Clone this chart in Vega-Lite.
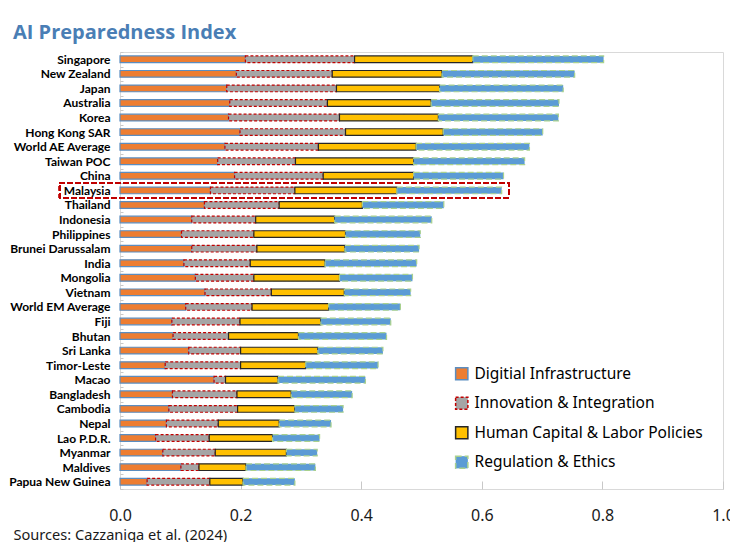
{
  "$schema": "https://vega.github.io/schema/vega-lite/v6.json",
  "autosize": {"type": "none"},
  "padding": {"left": 120, "top": 52, "right": 7, "bottom": 53},
  "width": 603,
  "height": 437,
  "background": "white",
  "title": {
    "text": "AI Preparedness Index",
    "anchor": "start",
    "frame": "group",
    "dx": -107,
    "offset": 3,
    "font": "Open Sans",
    "fontSize": 20,
    "fontWeight": "bold",
    "color": "#4A7EB5"
  },
  "data": {
    "values": [
      {"country": "Singapore", "Digitial Infrastructure": 0.208, "Innovation & Integration": 0.181, "Human Capital & Labor Policies": 0.196, "Regulation & Ethics": 0.217},
      {"country": "New Zealand", "Digitial Infrastructure": 0.193, "Innovation & Integration": 0.159, "Human Capital & Labor Policies": 0.182, "Regulation & Ethics": 0.220},
      {"country": "Japan", "Digitial Infrastructure": 0.177, "Innovation & Integration": 0.182, "Human Capital & Labor Policies": 0.171, "Regulation & Ethics": 0.205},
      {"country": "Australia", "Digitial Infrastructure": 0.182, "Innovation & Integration": 0.162, "Human Capital & Labor Policies": 0.172, "Regulation & Ethics": 0.212},
      {"country": "Korea", "Digitial Infrastructure": 0.180, "Innovation & Integration": 0.184, "Human Capital & Labor Policies": 0.164, "Regulation & Ethics": 0.199},
      {"country": "Hong Kong SAR", "Digitial Infrastructure": 0.199, "Innovation & Integration": 0.175, "Human Capital & Labor Policies": 0.162, "Regulation & Ethics": 0.165},
      {"country": "World AE Average", "Digitial Infrastructure": 0.174, "Innovation & Integration": 0.155, "Human Capital & Labor Policies": 0.162, "Regulation & Ethics": 0.188},
      {"country": "Taiwan POC", "Digitial Infrastructure": 0.162, "Innovation & Integration": 0.129, "Human Capital & Labor Policies": 0.196, "Regulation & Ethics": 0.184},
      {"country": "China", "Digitial Infrastructure": 0.190, "Innovation & Integration": 0.147, "Human Capital & Labor Policies": 0.150, "Regulation & Ethics": 0.149},
      {"country": "Malaysia", "Digitial Infrastructure": 0.150, "Innovation & Integration": 0.140, "Human Capital & Labor Policies": 0.169, "Regulation & Ethics": 0.174},
      {"country": "Thailand", "Digitial Infrastructure": 0.140, "Innovation & Integration": 0.124, "Human Capital & Labor Policies": 0.138, "Regulation & Ethics": 0.135},
      {"country": "Indonesia", "Digitial Infrastructure": 0.119, "Innovation & Integration": 0.106, "Human Capital & Labor Policies": 0.131, "Regulation & Ethics": 0.161},
      {"country": "Philippines", "Digitial Infrastructure": 0.102, "Innovation & Integration": 0.120, "Human Capital & Labor Policies": 0.152, "Regulation & Ethics": 0.124},
      {"country": "Brunei Darussalam", "Digitial Infrastructure": 0.119, "Innovation & Integration": 0.108, "Human Capital & Labor Policies": 0.146, "Regulation & Ethics": 0.123},
      {"country": "India", "Digitial Infrastructure": 0.106, "Innovation & Integration": 0.110, "Human Capital & Labor Policies": 0.124, "Regulation & Ethics": 0.152},
      {"country": "Mongolia", "Digitial Infrastructure": 0.125, "Innovation & Integration": 0.097, "Human Capital & Labor Policies": 0.142, "Regulation & Ethics": 0.121},
      {"country": "Vietnam", "Digitial Infrastructure": 0.141, "Innovation & Integration": 0.110, "Human Capital & Labor Policies": 0.121, "Regulation & Ethics": 0.110},
      {"country": "World EM Average", "Digitial Infrastructure": 0.109, "Innovation & Integration": 0.110, "Human Capital & Labor Policies": 0.127, "Regulation & Ethics": 0.119},
      {"country": "Fiji", "Digitial Infrastructure": 0.086, "Innovation & Integration": 0.113, "Human Capital & Labor Policies": 0.134, "Regulation & Ethics": 0.116},
      {"country": "Bhutan", "Digitial Infrastructure": 0.088, "Innovation & Integration": 0.092, "Human Capital & Labor Policies": 0.116, "Regulation & Ethics": 0.146},
      {"country": "Sri Lanka", "Digitial Infrastructure": 0.114, "Innovation & Integration": 0.086, "Human Capital & Labor Policies": 0.128, "Regulation & Ethics": 0.108},
      {"country": "Timor-Leste", "Digitial Infrastructure": 0.075, "Innovation & Integration": 0.125, "Human Capital & Labor Policies": 0.108, "Regulation & Ethics": 0.120},
      {"country": "Macao", "Digitial Infrastructure": 0.156, "Innovation & Integration": 0.019, "Human Capital & Labor Policies": 0.087, "Regulation & Ethics": 0.145},
      {"country": "Bangladesh", "Digitial Infrastructure": 0.087, "Innovation & Integration": 0.107, "Human Capital & Labor Policies": 0.090, "Regulation & Ethics": 0.101},
      {"country": "Cambodia", "Digitial Infrastructure": 0.081, "Innovation & Integration": 0.114, "Human Capital & Labor Policies": 0.095, "Regulation & Ethics": 0.080},
      {"country": "Nepal", "Digitial Infrastructure": 0.077, "Innovation & Integration": 0.086, "Human Capital & Labor Policies": 0.101, "Regulation & Ethics": 0.086},
      {"country": "Lao P.D.R.", "Digitial Infrastructure": 0.059, "Innovation & Integration": 0.089, "Human Capital & Labor Policies": 0.105, "Regulation & Ethics": 0.078},
      {"country": "Myanmar", "Digitial Infrastructure": 0.071, "Innovation & Integration": 0.087, "Human Capital & Labor Policies": 0.118, "Regulation & Ethics": 0.051},
      {"country": "Maldives", "Digitial Infrastructure": 0.101, "Innovation & Integration": 0.030, "Human Capital & Labor Policies": 0.078, "Regulation & Ethics": 0.115},
      {"country": "Papua New Guinea", "Digitial Infrastructure": 0.045, "Innovation & Integration": 0.104, "Human Capital & Labor Policies": 0.055, "Regulation & Ethics": 0.086}
    ]
  },
  "encoding": {
    "y": {
      "field": "country",
      "type": "nominal",
      "scale": {
        "domain": ["Singapore", "New Zealand", "Japan", "Australia", "Korea", "Hong Kong SAR", "World AE Average", "Taiwan POC", "China", "Malaysia", "Thailand", "Indonesia", "Philippines", "Brunei Darussalam", "India", "Mongolia", "Vietnam", "World EM Average", "Fiji", "Bhutan", "Sri Lanka", "Timor-Leste", "Macao", "Bangladesh", "Cambodia", "Nepal", "Lao P.D.R.", "Myanmar", "Maldives", "Papua New Guinea"],
        "paddingInner": 0,
        "paddingOuter": 0
      },
      "axis": {
        "title": null,
        "domain": false,
        "tickBand": "extent",
        "tickSize": -3,
        "tickColor": "#c8c8c8",
        "labelFont": "Lato",
        "labelFontWeight": "bold",
        "labelFontSize": 12,
        "labelColor": "#000000",
        "labelPadding": 13
      }
    }
  },
  "layer": [
    {
      "transform": [
        {"fold": ["Digitial Infrastructure", "Innovation & Integration", "Human Capital & Labor Policies", "Regulation & Ethics"], "as": ["component", "value"]},
        {"calculate": "indexof(['Digitial Infrastructure','Innovation & Integration','Human Capital & Labor Policies','Regulation & Ethics'], datum.component)", "as": "k"}
      ],
      "mark": {"type": "bar", "height": {"band": 0.46}, "strokeWidth": 1.2},
      "encoding": {
        "x": {
          "field": "value",
          "type": "quantitative",
          "stack": "zero",
          "scale": {"domain": [0, 1], "nice": false},
          "axis": {
            "values": [0, 0.2, 0.4, 0.6, 0.8, 1.0],
            "format": ".1f",
            "grid": false,
            "domain": false,
            "tickSize": -8,
            "tickColor": "#c8c8c8",
            "labelFont": "Noto Sans",
            "labelFontSize": 16,
            "labelColor": "#1a1a1a",
            "labelPadding": 26,
            "labelFlush": false,
            "title": "Sources: Cazzaniga et al. (2024)",
            "titleAnchor": "start",
            "titleAlign": "left",
            "titleX": -107,
            "titleY": 50,
            "titleBaseline": "alphabetic",
            "titleFont": "Noto Sans",
            "titleFontSize": 14.6,
            "titleFontWeight": "normal",
            "titleColor": "#1a1a1a"
          }
        },
        "order": {"field": "k", "type": "quantitative"},
        "fill": {
          "field": "component",
          "type": "nominal",
          "scale": {
            "domain": ["Digitial Infrastructure", "Innovation & Integration", "Human Capital & Labor Policies", "Regulation & Ethics"],
            "range": ["#ED7D31", "#A5A5A5", "#FFC000", "#5B9BD5"]
          },
          "legend": {
            "title": null,
            "orient": "none",
            "legendX": 334,
            "legendY": 314,
            "symbolType": "square",
            "symbolSize": 150,
            "symbolStrokeWidth": 1.5,
            "labelFont": "Noto Sans",
            "labelFontSize": 15.5,
            "labelColor": "#000000",
            "labelOffset": 5,
            "labelLimit": 400,
            "rowPadding": 10.5,
            "padding": 0
          }
        },
        "stroke": {
          "field": "component",
          "type": "nominal",
          "scale": {
            "domain": ["Digitial Infrastructure", "Innovation & Integration", "Human Capital & Labor Policies", "Regulation & Ethics"],
            "range": ["#5B8DC0", "#C00000", "#262626", "#A9D18E"]
          },
          "legend": {"title": null}
        },
        "strokeDash": {
          "field": "component",
          "type": "nominal",
          "scale": {
            "domain": ["Digitial Infrastructure", "Innovation & Integration", "Human Capital & Labor Policies", "Regulation & Ethics"],
            "range": [[1, 0], [3, 2], [1, 0], [6, 3]]
          },
          "legend": {"title": null}
        }
      }
    },
    {
      "mark": {"type": "rect", "fill": null, "stroke": "#C00000", "strokeWidth": 1.5, "strokeDash": [5, 3]},
      "encoding": {
        "y": {"datum": "Malaysia"},
        "x": {"datum": -0.1},
        "x2": {"datum": 0.645}
      }
    }
  ],
  "config": {
    "view": {"stroke": "#d9d9d9", "strokeWidth": 1}
  }
}
